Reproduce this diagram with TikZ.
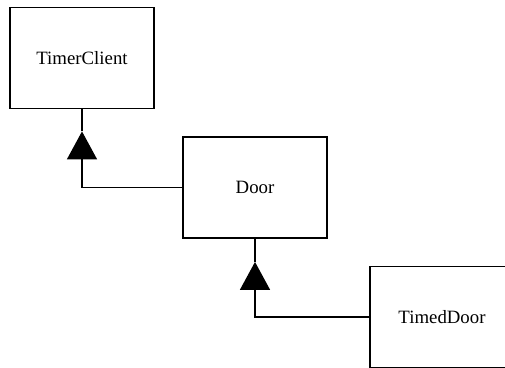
\documentclass[tikz,border=0pt]{standalone}
\usepackage{fontspec}
\setmainfont{Liberation Serif}
\usetikzlibrary{arrows.meta,calc}
\begin{document}
\begin{tikzpicture}[x=1pt,y=-1pt,
  classbox/.style={draw=black,line width=1.8pt,rectangle,minimum width=144pt,minimum height=101pt,inner sep=0pt,font=\fontsize{18.8}{22}\selectfont},
  inherit/.style={draw=black,line width=1.4pt,-{Triangle[length=28pt,width=30pt]}},
  plainline/.style={draw=black,line width=1.4pt}]
\useasboundingbox (0,0) rectangle (505,367);
\node[classbox] (TimerClient) at (82,58) {TimerClient};
\node[classbox] (Door) at (255,187.5) {Door};
\node[classbox] (TimedDoor) at (442,317) {TimedDoor};
\coordinate (t1) at ($(TimerClient.south)+(0,22)$);
\coordinate (t2) at ($(Door.south)+(0,23)$);
\draw[inherit] (Door.west) -| (t1);
\draw[plainline] (t1) -- (TimerClient.south);
\draw[inherit] (TimedDoor.west) -| (t2);
\draw[plainline] (t2) -- (Door.south);
\end{tikzpicture}
\end{document}
